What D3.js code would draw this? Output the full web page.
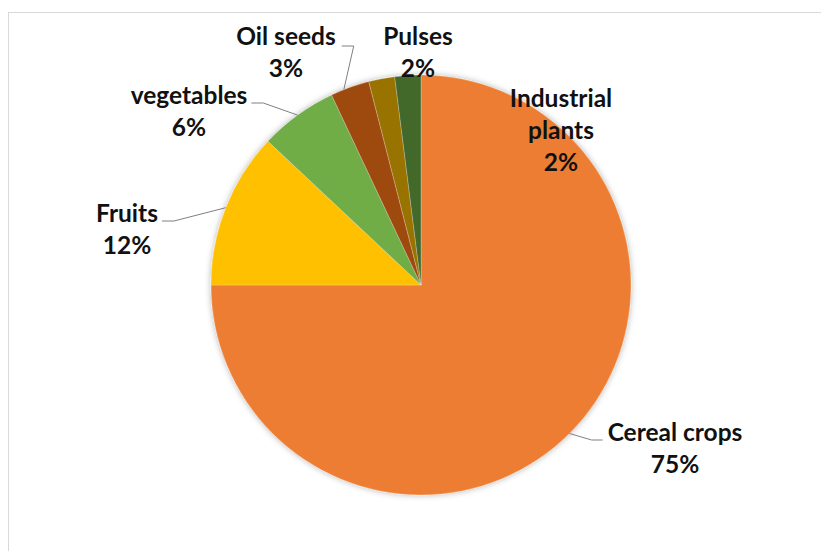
<!DOCTYPE html>
<html>
<head>
<meta charset="utf-8">
<script src="https://cdn.jsdelivr.net/npm/d3@7/dist/d3.min.js"></script>
<style>
  html, body { margin: 0; padding: 0; background: #fff; }
  svg { display: block; }
  .lbl { font-family: Lato, "Open Sans", sans-serif; font-weight: 700; font-size: 24.5px; fill: #111; }
</style>
</head>
<body>
<svg id="chart" width="821" height="551"></svg>
<script>
// Crop area shares (%), clockwise from 12 o'clock
const categories = ["Cereal crops", "Fruits", "vegetables", "Oil seeds", "Pulses", "Industrial plants"];
const shares = [75, 12, 6, 3, 2, 2];
const sliceColors = ["#ED7D31", "#FFC000", "#70AD47", "#9E480E", "#997300", "#43682B"];

// Label lines as displayed (category name may wrap)
const labelLines = [["Cereal crops"], ["Fruits"], ["vegetables"], ["Oil seeds"], ["Pulses"], ["Industrial", "plants"]];

// Where each label block sits (centre x, first baseline y) and whether it gets a leader line
const labelLayout = [
  { x: 675, y: 441, leader: "left" },
  { x: 127, y: 222, leader: "right" },
  { x: 189, y: 104, leader: "right" },
  { x: 286, y: 45, leader: "down" },
  { x: 418, y: 45, leader: null },
  { x: 561, y: 107, leader: null }
];

const W = 821, H = 551;
const cx = 421, cy = 285, R = 210;
const lineH = 32;

const svg = d3.select("#chart");

// chart area frame
svg.append("rect")
  .attr("x", 8.5).attr("y", 12.5)
  .attr("width", W + 10).attr("height", H + 10)
  .attr("fill", "#fff").attr("stroke", "#d9d9d9").attr("stroke-width", 1);

const defs = svg.append("defs");
const f = defs.append("filter").attr("id", "pieShadow")
  .attr("x", "-10%").attr("y", "-10%").attr("width", "120%").attr("height", "120%");
f.append("feDropShadow").attr("dx", 0).attr("dy", 0).attr("stdDeviation", 3)
  .attr("flood-color", "#000").attr("flood-opacity", 0.3);

const data = categories.map((c, i) => ({ name: c, value: shares[i], color: sliceColors[i], i }));

const pie = d3.pie().value(d => d.value).sort(null).startAngle(0).endAngle(2 * Math.PI);
const arcs = pie(data);
const arc = d3.arc().innerRadius(0).outerRadius(R);

const g = svg.append("g").attr("transform", `translate(${cx},${cy})`);
const slices = g.append("g").attr("filter", "url(#pieShadow)");
slices.selectAll("path").data(arcs).join("path")
  .attr("d", arc)
  .attr("fill", d => d.data.color)
  .attr("stroke", "#fff").attr("stroke-width", 0.4).attr("stroke-opacity", 0.6);

// leader lines: from the slice rim toward the label block
const rimPoint = d => {
  const a = (d.startAngle + d.endAngle) / 2;
  return [cx + R * Math.sin(a), cy - R * Math.cos(a)];
};

const leaders = svg.append("g").attr("fill", "none").attr("stroke", "#808080").attr("stroke-width", 1);
arcs.forEach(d => {
  const L = labelLayout[d.data.i];
  if (!L.leader) return;
  const p = rimPoint(d);
  const nameW = measure(labelLines[d.data.i][0]);
  let pts;
  if (L.leader === "right") {
    const x0 = L.x + nameW / 2 + 4, yb = L.y - 1;
    pts = [[x0, yb], [x0 + 12, yb], p];
  } else if (L.leader === "left") {
    const x0 = L.x - nameW / 2 - 5, yb = L.y - 1;
    pts = [[x0, yb], [x0 - 11, yb], p];
  } else {
    const x0 = L.x + nameW / 2 + 6, yb = L.y + 1;
    pts = [[x0, yb], [x0 + 12, yb], [p[0] - 6, p[1] + 2]];
  }
  leaders.append("path").attr("d", d3.line()(pts));
});

// labels
const lbls = svg.append("g");
arcs.forEach(d => {
  const i = d.data.i, L = labelLayout[i];
  const lines = labelLines[i].concat([d3.format(".0f")(d.data.value) + "%"]);
  const t = lbls.append("text").attr("class", "lbl").attr("text-anchor", "middle");
  lines.forEach((s, k) => {
    t.append("tspan").attr("x", L.x).attr("y", L.y + k * lineH).text(s);
  });
});

function measure(s) {
  const t = svg.append("text").attr("class", "lbl").text(s);
  const w = t.node().getComputedTextLength();
  t.remove();
  return w;
}
</script>
</body>
</html>
